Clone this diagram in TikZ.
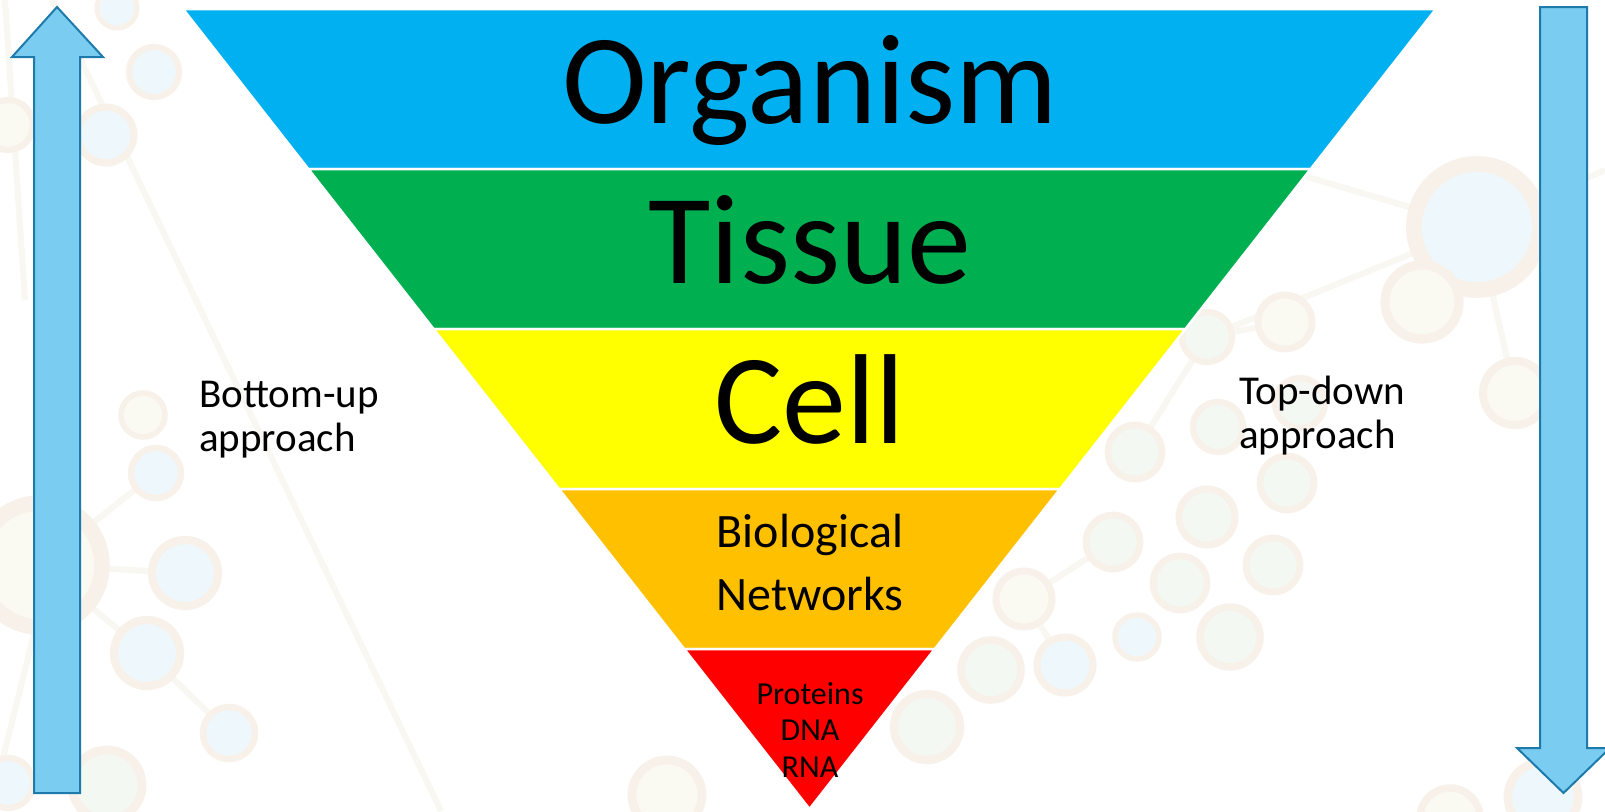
\documentclass[tikz,border=0pt]{standalone}
\usepackage{fontspec}
\setmainfont{Carlito}
\definecolor{orgblue}{RGB}{0,176,240}
\definecolor{tisgreen}{RGB}{0,176,80}
\definecolor{cellyellow}{RGB}{255,255,0}
\definecolor{netorange}{RGB}{255,192,0}
\definecolor{molred}{RGB}{255,0,0}
\definecolor{arrowfill}{RGB}{122,205,240}
\definecolor{arrowline}{RGB}{30,122,170}
\definecolor{ringtan}{RGB}{248,241,234}
\definecolor{linkbeige}{RGB}{248,247,241}
\definecolor{dotb}{RGB}{238,248,252}
\definecolor{dotc}{RGB}{251,250,242}
\definecolor{dotg}{RGB}{243,248,243}
\begin{document}
\begin{tikzpicture}[x=1pt, y=-1pt,
  level/.style={font=\fontsize{128}{150}\selectfont, anchor=base, inner sep=0pt},
  side/.style={font=\fontsize{41}{44}\selectfont, align=left, anchor=base west, inner sep=0pt},
  bigarrow/.style={draw=arrowline, fill=arrowfill, line width=2pt},
  link/.style={linkbeige, line width=6pt},
  dot/.style={draw=ringtan}]
  \useasboundingbox[fill=white] (0,0) rectangle (1605,811);
  % faint network behind everything
  \foreach \a/\b/\c/\d in {52/0/441/811, 5/0/25/300, 35/630/0/770, 40/565/185/573,
      40/565/147/653, 147/653/229/733, 40/565/156/473, 1250/160/1477/227,
      1477/227/1207/337, 1515/393/1477/227, 1477/227/1605/170, 1285/322/1207/337,
      1207/337/1135/452, 1113/542/1024/599, 1024/599/1065/665}
    \draw[link] (\a,\b) -- (\c,\d);
  \foreach \x/\y/\r/\k in {117/8/20/b, 154/72/25/b, 106/135/28/b, 8/125/25/c,
      143/415/22/c, 156/473/25/b, 40/565/62/c, 185/573/33/b, 147/653/33/b,
      229/733/26/b, 107/785/35/g, 8/783/25/b, 667/795/35/c, 927/727/33/g,
      991/670/30/g, 1024/599/28/c, 1065/665/28/b, 1477/227/63/b, 1422/302/37/c,
      1515/393/32/c, 1285/322/27/c, 1207/337/25/g, 1300/403/25/g, 1218/427/25/g,
      1135/452/27/g, 1287/483/27/g, 1207/517/28/g, 1273/565/27/g, 1180/583/27/g,
      1113/542/27/g, 1137/637/22/b, 1230/637/30/g, 1543/797/35/b, 1450/818/30/c}
    \draw[dot, fill=dot\k, line width=0.25*\r pt] (\x,\y) circle (\r pt);
  % the five levels of the funnel
  \foreach \t/\b/\c in {9/169/orgblue, 169/329/tisgreen, 329/489/cellyellow,
      489/649/netorange, 649/809/molred}
    \filldraw[fill=\c, draw=white, line width=2.5pt, line join=round]
      ({183+0.7831*(\t-9)},\t) -- ({1436-0.7831*(\t-9)},\t)
      -- ({1436-0.7831*(\b-9)},\b) -- ({183+0.7831*(\b-9)},\b) -- cycle;
  \node[level] (organism) at (810,123) {Organism};
  \node[level] (tissue) at (810,283) {Tissue};
  \node[level] (cell) at (810,443) {Cell};
  \node[font=\fontsize{48}{63}\selectfont, align=center, anchor=base, inner sep=0pt]
    (networks) at (810,610) {Biological\\Networks};
  \node[font=\fontsize{32}{36.5}\selectfont, align=center, anchor=base, inner sep=0pt]
    (molecules) at (810,777) {Proteins\\DNA\\RNA};
  % side arrows
  \draw[bigarrow] (34,793) -- (34,57) -- (12,57) -- (57,7) -- (103,57) -- (80,57)
    -- (80,793) -- cycle;
  \draw[bigarrow] (1540,7) -- (1587,7) -- (1587,748) -- (1610,748) -- (1563.5,793)
    -- (1517,748) -- (1540,748) -- cycle;
  \node[side] (bottomup) at (199,451) {Bottom-up\\approach};
  \node[side] (topdown) at (1239,448) {Top-down\\approach};
\end{tikzpicture}
\end{document}
